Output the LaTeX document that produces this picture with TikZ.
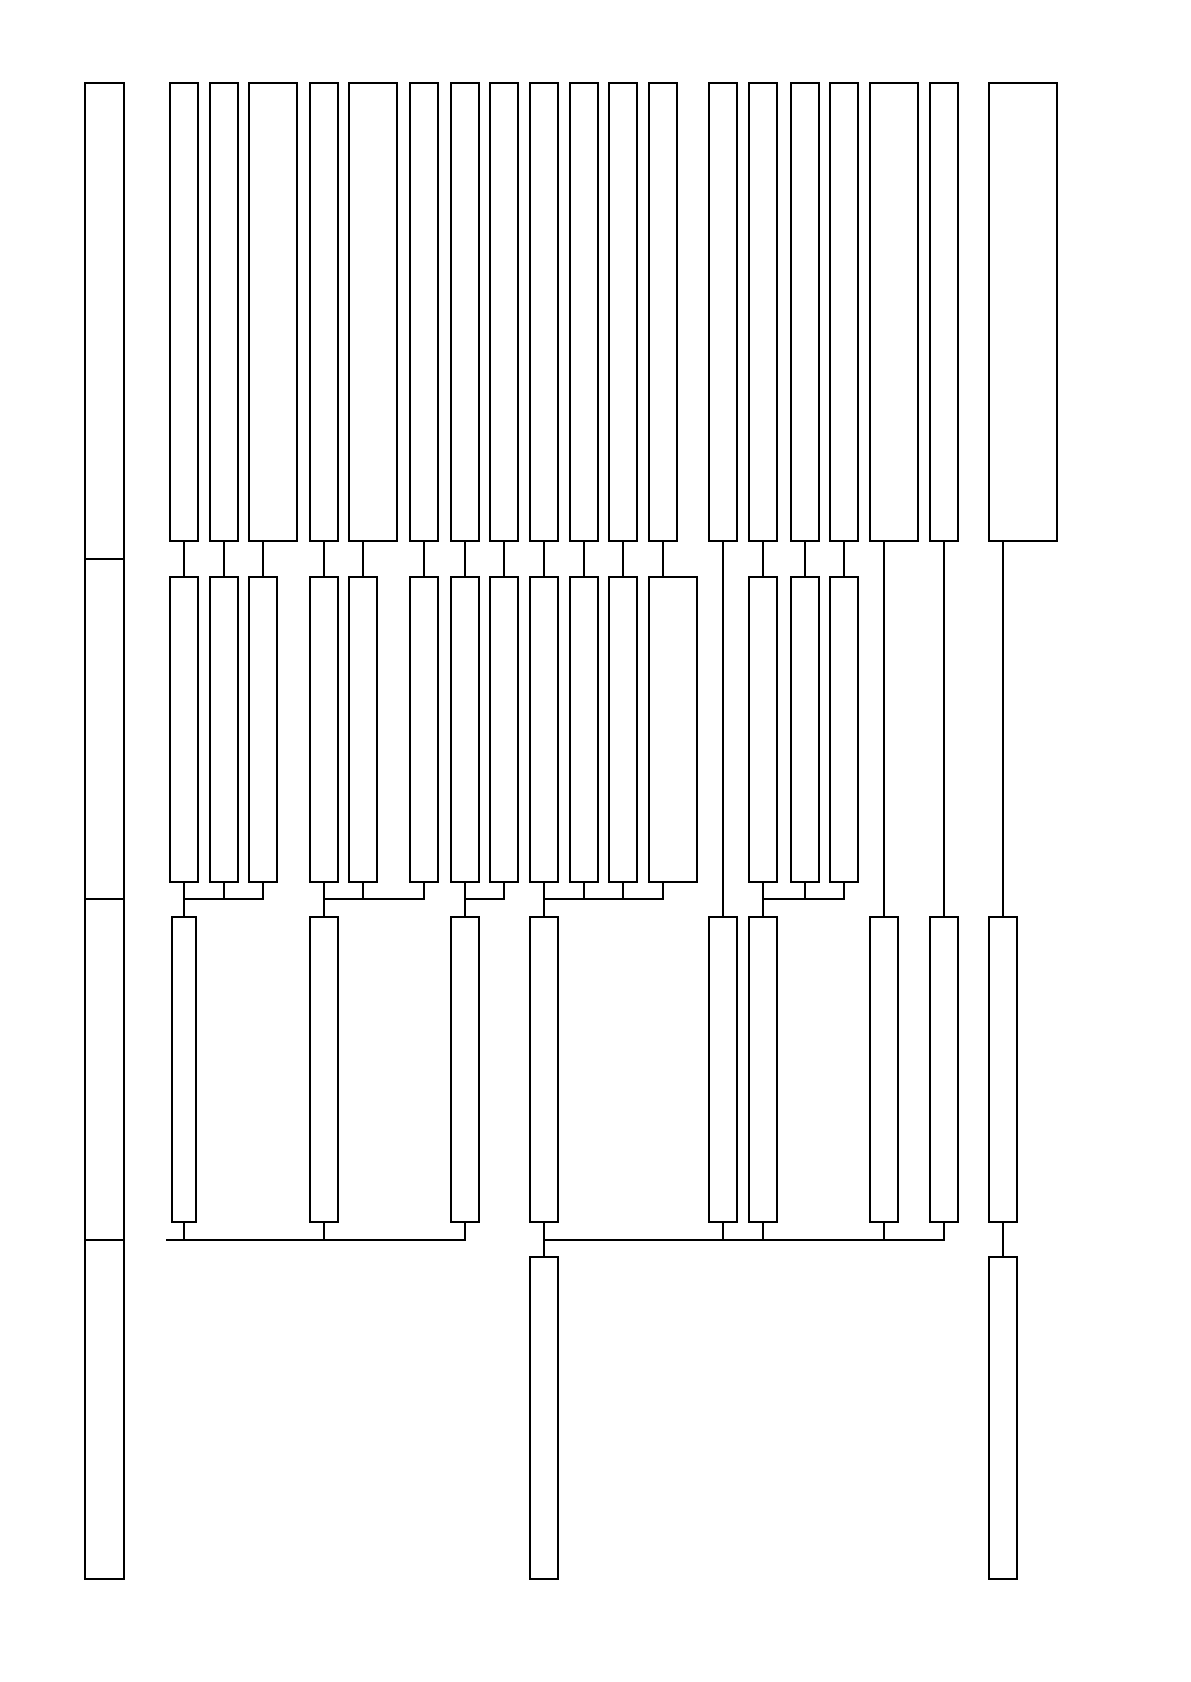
\documentclass[tikz,border=0pt]{standalone}
\usetikzlibrary{positioning}
\begin{document}
\begin{tikzpicture}[x=0.5pt,y=-0.5pt,%%
  boxStyle/.style={draw,line width=0.6pt,inner sep=0pt,outer sep=0pt,anchor=north west,minimum width=14pt},%%
  wideBox/.style={minimum width=24pt},%%
  extraWideBox/.style={minimum width=34pt},%%
  narrowBox/.style={minimum width=12pt},%%
  rowOne/.style={minimum height=229pt},%%
  rowTwo/.style={minimum height=152.5pt},%%
  rowThree/.style={minimum height=152.5pt},%%
  rowFour/.style={minimum height=161pt},%%
  bandStyle/.style={draw,line width=1.4pt,inner sep=0pt,outer sep=0pt,anchor=north west,minimum width=19.5pt},%%
  lineStyle/.style={-,line width=0.6pt}
]
%%
%%
\useasboundingbox (0,0) rectangle (1190,1682);
\pgfmathsetmacro{\yA}{83}
\pgfmathsetmacro{\yB}{577}
\pgfmathsetmacro{\yC}{917}
\pgfmathsetmacro{\yD}{1257}
\pgfmathsetmacro{\yBusA}{899}
\pgfmathsetmacro{\yBusB}{1240}
\coordinate (busA) at (0,\yBusA);
\coordinate (busB) at (0,\yBusB);
\coordinate (busEnd) at (166,\yBusB);
%%
%%
%% The band on the left.
\node[bandStyle,minimum height=238pt] (bandA) at (85,\yA) {};
\node[bandStyle,minimum height=170pt] (bandB) at (85,559) {};
\node[bandStyle,minimum height=170.5pt] (bandC) at (85,\yBusA) {};
\node[bandStyle,minimum height=169.5pt] (bandD) at (85,\yBusB) {};
%% First row.
\node[boxStyle,rowOne] (r1a) at (170,\yA) {};
\node[boxStyle,rowOne] (r1b) at (210,\yA) {};
\node[boxStyle,rowOne,wideBox] (r1c) at (249,\yA) {};
\node[boxStyle,rowOne] (r1d) at (310,\yA) {};
\node[boxStyle,rowOne,wideBox] (r1e) at (349,\yA) {};
\node[boxStyle,rowOne] (r1f) at (410,\yA) {};
\node[boxStyle,rowOne] (r1g) at (451,\yA) {};
\node[boxStyle,rowOne] (r1h) at (490,\yA) {};
\node[boxStyle,rowOne] (r1i) at (530,\yA) {};
\node[boxStyle,rowOne] (r1j) at (570,\yA) {};
\node[boxStyle,rowOne] (r1k) at (609,\yA) {};
\node[boxStyle,rowOne] (r1l) at (649,\yA) {};
\node[boxStyle,rowOne] (r1m) at (709,\yA) {};
\node[boxStyle,rowOne] (r1n) at (749,\yA) {};
\node[boxStyle,rowOne] (r1o) at (791,\yA) {};
\node[boxStyle,rowOne] (r1p) at (830,\yA) {};
\node[boxStyle,rowOne,wideBox] (r1q) at (870,\yA) {};
\node[boxStyle,rowOne] (r1r) at (930,\yA) {};
\node[boxStyle,rowOne,extraWideBox] (r1s) at (989,\yA) {};
%% Second row.
\node[boxStyle,rowTwo] (r2a) at (170,\yB) {};
\node[boxStyle,rowTwo] (r2b) at (210,\yB) {};
\node[boxStyle,rowTwo] (r2c) at (249,\yB) {};
\node[boxStyle,rowTwo] (r2d) at (310,\yB) {};
\node[boxStyle,rowTwo] (r2e) at (349,\yB) {};
\node[boxStyle,rowTwo] (r2f) at (410,\yB) {};
\node[boxStyle,rowTwo] (r2g) at (451,\yB) {};
\node[boxStyle,rowTwo] (r2h) at (490,\yB) {};
\node[boxStyle,rowTwo] (r2i) at (530,\yB) {};
\node[boxStyle,rowTwo] (r2j) at (570,\yB) {};
\node[boxStyle,rowTwo] (r2k) at (609,\yB) {};
\node[boxStyle,rowTwo,wideBox] (r2l) at (649,\yB) {};
\node[boxStyle,rowTwo] (r2m) at (749,\yB) {};
\node[boxStyle,rowTwo] (r2n) at (791,\yB) {};
\node[boxStyle,rowTwo] (r2o) at (830,\yB) {};
%% Third row.
\node[boxStyle,rowThree,narrowBox] (r3a) at (172,\yC) {};
\node[boxStyle,rowThree] (r3b) at (310,\yC) {};
\node[boxStyle,rowThree] (r3c) at (451,\yC) {};
\node[boxStyle,rowThree] (r3d) at (530,\yC) {};
\node[boxStyle,rowThree] (r3e) at (709,\yC) {};
\node[boxStyle,rowThree] (r3f) at (749,\yC) {};
\node[boxStyle,rowThree] (r3g) at (870,\yC) {};
\node[boxStyle,rowThree] (r3h) at (930,\yC) {};
\node[boxStyle,rowThree] (r3i) at (989,\yC) {};
%% Fourth row.
\node[boxStyle,rowFour] (r4a) at (530,\yD) {};
\node[boxStyle,rowFour] (r4b) at (989,\yD) {};
%%
%%
%% From the first row down.
\draw[lineStyle] (r1a.south) -- (r2a.north);
\draw[lineStyle] (r1b.south) -- (r2b.north);
\draw[lineStyle] (r2c.north |- r1c.south) -- (r2c.north);
\draw[lineStyle] (r1d.south) -- (r2d.north);
\draw[lineStyle] (r2e.north |- r1e.south) -- (r2e.north);
\draw[lineStyle] (r1f.south) -- (r2f.north);
\draw[lineStyle] (r1g.south) -- (r2g.north);
\draw[lineStyle] (r1h.south) -- (r2h.north);
\draw[lineStyle] (r1i.south) -- (r2i.north);
\draw[lineStyle] (r1j.south) -- (r2j.north);
\draw[lineStyle] (r1k.south) -- (r2k.north);
\draw[lineStyle] (r1l.south) -- (r1l.south |- r2l.north);
\draw[lineStyle] (r1m.south) -- (r3e.north);
\draw[lineStyle] (r1n.south) -- (r2m.north);
\draw[lineStyle] (r1o.south) -- (r2n.north);
\draw[lineStyle] (r1p.south) -- (r2o.north);
\draw[lineStyle] (r3g.north |- r1q.south) -- (r3g.north);
\draw[lineStyle] (r1r.south) -- (r3h.north);
\draw[lineStyle] (r3i.north |- r1s.south) -- (r3i.north);
%% From the second row down.
\draw[lineStyle] (r2a.south) -- (r3a.north);
\draw[lineStyle] (r2a.south |- busA) -- (r2c.south |- busA) -- (r2c.south);
\draw[lineStyle] (r2b.south) -- (r2b.south |- busA);
\draw[lineStyle] (r2d.south) -- (r3b.north);
\draw[lineStyle] (r2d.south |- busA) -- (r2f.south |- busA) -- (r2f.south);
\draw[lineStyle] (r2e.south) -- (r2e.south |- busA);
\draw[lineStyle] (r2g.south) -- (r3c.north);
\draw[lineStyle] (r2g.south |- busA) -- (r2h.south |- busA) -- (r2h.south);
\draw[lineStyle] (r2i.south) -- (r3d.north);
\draw[lineStyle] (r2i.south |- busA) -- (r1l.south |- busA) -- (r1l.south |- r2l.south);
\draw[lineStyle] (r2j.south) -- (r2j.south |- busA);
\draw[lineStyle] (r2k.south) -- (r2k.south |- busA);
\draw[lineStyle] (r2m.south) -- (r3f.north);
\draw[lineStyle] (r2m.south |- busA) -- (r2o.south |- busA) -- (r2o.south);
\draw[lineStyle] (r2n.south) -- (r2n.south |- busA);
%% From the third row down.
\draw[lineStyle] (busEnd) -- (r3c.south |- busB) -- (r3c.south);
\draw[lineStyle] (r3a.south) -- (r3a.south |- busB);
\draw[lineStyle] (r3b.south) -- (r3b.south |- busB);
\draw[lineStyle] (r3d.south) -- (r4a.north);
\draw[lineStyle] (r3d.south |- busB) -- (r3h.south |- busB) -- (r3h.south);
\draw[lineStyle] (r3e.south) -- (r3e.south |- busB);
\draw[lineStyle] (r3f.south) -- (r3f.south |- busB);
\draw[lineStyle] (r3g.south) -- (r3g.south |- busB);
\draw[lineStyle] (r3i.south) -- (r4b.north);
\end{tikzpicture}
\end{document}
